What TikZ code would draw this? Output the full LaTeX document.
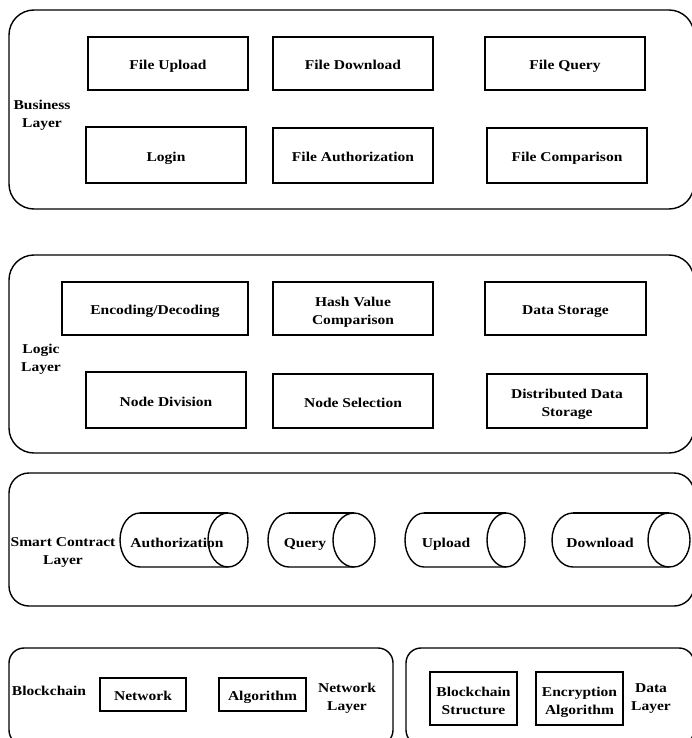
\documentclass[tikz,border=0pt]{standalone}
\usepackage{fontspec}
\setmainfont[FakeStretch=1.15]{Liberation Serif}
\begin{document}
\begin{tikzpicture}[x=1pt,y=-1pt,
  layer/.style={draw,line width=1.4pt,rounded corners=#1},
  txt/.style={font=\bfseries\fontsize{13.5}{18}\selectfont,align=center,inner sep=0pt},
  one/.style={txt,text height=12pt,text depth=0pt},
  two/.style={txt,text height=31pt,text depth=0pt},
  box/.style={draw,line width=1.8pt},
  cyl/.style={line width=1.4pt}]
\useasboundingbox (0,0) rectangle (692,738);
\clip (0,0) rectangle (692,738);
% layers
\draw[layer=25pt] (9,10) rectangle (694,209);
\draw[layer=25pt] (9,255) rectangle (694,453);
\draw[layer=20pt] (9,473) rectangle (694,606);
\draw[layer=15pt] (9,648) rectangle (393,745);
\draw[layer=15pt] (406,648) rectangle (694,745);
% box macro: x1 y1 x2 y2 name style
\newcommand{\bx}[6]{\node[box,#6,minimum width=#3-#1,minimum height=#4-#2] (#5) at ({(#1+#3)/2},{(#2+#4)/2})}
% business
\bx{88}{37}{248}{90}{fu}{one} {File Upload};
\bx{273}{37}{433}{90}{fd}{one} {File Download};
\bx{485}{37}{645}{90}{fq}{one} {File Query};
\bx{86}{127}{246}{183}{login}{one} {Login};
\bx{273}{128}{433}{183}{fa}{one} {File Authorization};
\bx{487}{128}{647}{183}{fc}{one} {File Comparison};
\node[two] (bl) at (42,112) {Business\\Layer};
% logic
\bx{62}{282}{248}{335}{enc}{one} {Encoding/Decoding};
\bx{273}{282}{433}{335}{hash}{two} {Hash Value\\Comparison};
\bx{485}{282}{646}{335}{ds}{one} {Data Storage};
\bx{86}{372}{246}{428}{nd}{one} {Node Division};
\bx{273}{374}{433}{428}{ns}{one} {Node Selection};
\bx{487}{374}{647}{428}{dds}{two} {Distributed Data\\Storage};
\node[two] (ll) at (41,356) {Logic\\Layer};
% smart contract
\newcommand{\cy}[5]{%
  \draw[cyl] (#1+#3,513) arc (270:90:#3 and 27) -- (#2-#3,567);
  \draw[cyl] (#1+#3,513) -- (#2-#3,513);
  \draw[cyl] (#2-#3,540) ellipse [x radius=#3, y radius=27];
  \node[one] (#4) at (#5,541)}
\cy{120}{248}{20}{auth}{177} {Authorization};
\cy{268}{375}{21}{query}{305} {Query};
\cy{405}{525}{19}{upload}{446} {Upload};
\cy{552}{690}{21}{download}{600} {Download};
\node[two] (scl) at (63,549) {Smart Contract\\Layer};
% bottom
\bx{100}{678}{186}{711}{net}{one} {Network};
\bx{219}{678}{306}{711}{alg}{one} {Algorithm};
\node[one] (blk) at (49,689) {Blockchain};
\node[two] (nl) at (347,695) {Network\\Layer};
\bx{430}{672}{517}{725}{bs}{two} {Blockchain\\Structure};
\bx{536}{672}{623}{725}{ea}{two} {Encryption\\Algorithm};
\node[two] (dl) at (651,695) {Data\\Layer};
\end{tikzpicture}
\end{document}
